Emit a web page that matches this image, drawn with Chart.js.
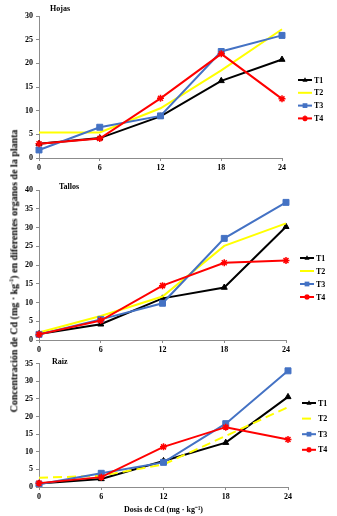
<!DOCTYPE html>
<html>
<head>
<meta charset="utf-8">
<script src="https://cdn.jsdelivr.net/npm/chart.js@4.4.1/dist/chart.umd.min.js"></script>
<style>
  body { margin: 0; background: #fff; width: 337px; height: 516px; position: relative; overflow: hidden; font-family: "Liberation Serif", serif; }
  .panel { position: absolute; left: 0; width: 337px; }
  .ttl { position: absolute; font-weight: bold; font-size: 8px; color: #000; }
  #ylab { position: absolute; left: 14px; top: 271px; white-space: nowrap; font-weight: bold; font-size: 10px;
          transform: translate(-50%, -50%) rotate(-90deg); }
  #ylab sup { font-size: 6px; }
</style>
</head>
<body>
<div class="panel" style="top:0;height:175px"><canvas id="hojas"></canvas></div>
<div class="panel" style="top:176px;height:180px"><canvas id="tallos"></canvas></div>
<div class="panel" style="top:356px;height:160px"><canvas id="raiz"></canvas></div>
<div class="ttl" style="left:50px;top:4px">Hojas</div>
<div class="ttl" style="left:59px;top:182px">Tallos</div>
<div class="ttl" style="left:52px;top:357px">Raiz</div>
<div id="ylab">Concentración de Cd (mg · kg<sup>-1</sup>) en diferentes organos de la planta</div>
<script>
// dosis de Cd (mg/kg)
const doses = ['0', '6', '12', '18', '24'];
const treatments = ['T1', 'T2', 'T3', 'T4'];

const hojasT1 = [3.0, 4.2, 8.8, 16.3, 20.8];
const hojasT2 = [5.4, 5.4, 10.5, 18.5, 27.2];
const hojasT3 = [1.7, 6.5, 8.9, 22.5, 25.9];
const hojasT4 = [3.0, 4.1, 12.6, 22.0, 12.5];

const tallosT1 = [1.6, 4.2, 11.1, 14.0, 30.2];
const tallosT2 = [2.0, 6.4, 11.6, 25.1, 31.1];
const tallosT3 = [1.5, 5.5, 9.8, 27.1, 36.7];
const tallosT4 = [1.5, 5.2, 14.5, 20.6, 21.2];

const raizT1 = [1.0, 2.3, 7.4, 12.6, 25.6];
const raizT2 = [2.6, 3.2, 6.4, 14.5, 22.7];
const raizT3 = [0.8, 3.9, 7.0, 18.0, 33.0];
const raizT4 = [1.1, 2.8, 11.4, 17.0, 13.5];

const colors = ['#000000', '#FFFF00', '#4472C4', '#FF0000'];
const markers = ['triangle', false, 'rect', 'star'];
const radii = [3.5, 0, 4.2, 3.5];

const tickFont = { family: 'Liberation Serif', weight: 'bold', size: 8 };

function drawMarker(ctx, style, r, x, y, color) {
    if (!style) return;
    ctx.save();
    ctx.fillStyle = color;
    ctx.strokeStyle = color;
    ctx.lineWidth = 1.5;
    ctx.beginPath();
    if (style === 'triangle') {
        ctx.moveTo(x, y - r);
        ctx.lineTo(x + r * 0.9, y + r * 0.6);
        ctx.lineTo(x - r * 0.9, y + r * 0.6);
        ctx.closePath();
        ctx.fill();
    } else if (style === 'rect') {
        const s = r * Math.SQRT1_2;
        ctx.fillRect(x - s, y - s, 2 * s, 2 * s);
    } else if (style === 'star') {
        ctx.moveTo(x - r, y); ctx.lineTo(x + r, y);
        ctx.moveTo(x, y - r); ctx.lineTo(x, y + r);
        const d = r * 0.7;
        ctx.moveTo(x - d, y - d); ctx.lineTo(x + d, y + d);
        ctx.moveTo(x - d, y + d); ctx.lineTo(x + d, y - d);
        ctx.stroke();
    }
    ctx.restore();
}

// leyenda estilo Excel: linea + marcador + texto
const excelLegend = {
    id: 'excelLegend',
    afterDraw(chart, args, opts) {
        const ctx = chart.ctx;
        chart.data.datasets.forEach((ds, i) => {
            const y = opts.y + i * opts.dy;
            ctx.save();
            ctx.strokeStyle = ds.borderColor;
            ctx.lineWidth = 2;
            ctx.setLineDash(ds.borderDash || []);
            ctx.beginPath();
            ctx.moveTo(opts.x, y);
            ctx.lineTo(opts.x + 14, y);
            ctx.stroke();
            ctx.restore();
            drawMarker(ctx, markers[i], radii[i] * 0.8, opts.x + 7, y, ds.borderColor);
            ctx.save();
            ctx.fillStyle = '#000';
            ctx.font = 'bold 8px "Liberation Serif"';
            ctx.textBaseline = 'middle';
            ctx.fillText(ds.label, opts.x + 16, y + 0.5);
            ctx.restore();
        });
    }
};

function makePanel(id, series, yMax, cfg) {
    const datasets = series.map((values, i) => ({
        label: treatments[i],
        data: values,
        borderColor: colors[i],
        backgroundColor: colors[i],
        borderWidth: 2,
        borderDash: (cfg.dashT2 && i === 1) ? [9, 5] : [],
        pointStyle: markers[i] || 'circle',
        pointRadius: radii[i],
        pointBorderWidth: markers[i] === 'star' ? 1.5 : 1,
        tension: 0,
        order: 4 - i
    }));

    return new Chart(document.getElementById(id), {
        type: 'line',
        data: { labels: doses, datasets: datasets },
        options: {
            responsive: true,
            maintainAspectRatio: false,
            animation: false,
            layout: { padding: { top: cfg.top, right: cfg.right, left: 0, bottom: 0 } },
            plugins: {
                legend: { display: false },
                tooltip: { enabled: false },
                excelLegend: cfg.legend
            },
            scales: {
                x: {
                    offset: false,
                    grid: { drawOnChartArea: false, tickLength: 3, color: '#8c8c8c' },
                    border: { color: '#8c8c8c' },
                    ticks: { font: tickFont, color: '#000', padding: 2, maxRotation: 0 },
                    title: cfg.xTitle ? {
                        display: true,
                        text: 'Dosis de Cd (mg · kg⁻¹)',
                        font: tickFont,
                        color: '#000',
                        padding: { top: 0, bottom: 1 }
                    } : { display: false },
                    afterFit: (scale) => { scale.height = cfg.xHeight; }
                },
                y: {
                    min: 0,
                    max: yMax,
                    grid: { drawOnChartArea: false, tickLength: 3, color: '#8c8c8c' },
                    border: { color: '#8c8c8c' },
                    ticks: { stepSize: 5, font: tickFont, color: '#000', padding: 3 },
                    afterFit: (scale) => { scale.width = 39; }
                }
            }
        },
        plugins: [excelLegend]
    });
}

makePanel('hojas', [hojasT1, hojasT2, hojasT3, hojasT4], 30, {
    top: 16, right: 55, xHeight: 17,
    legend: { x: 298, y: 80, dy: 12.8 }
});
makePanel('tallos', [tallosT1, tallosT2, tallosT3, tallosT4], 40, {
    top: 14, right: 51, xHeight: 16,
    legend: { x: 300, y: 82, dy: 13 }
});
makePanel('raiz', [raizT1, raizT2, raizT3, raizT4], 35, {
    top: 7, right: 49, xHeight: 29, xTitle: true, dashT2: true,
    legend: { x: 302, y: 47, dy: 15.6 }
});
</script>
</body>
</html>
